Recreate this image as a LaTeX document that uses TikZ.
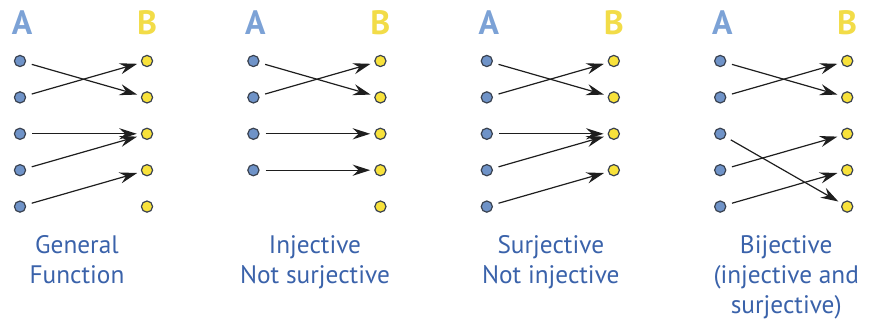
\documentclass[tikz,border=0pt]{standalone}
\usepackage{fontspec}
\setmainfont{PT Sans}
\usepackage{xcolor}
\usetikzlibrary{arrows.meta,positioning,calc}
\definecolor{setA}{HTML}{7CA2D6}
\definecolor{setB}{HTML}{F2DC48}
\definecolor{dotA}{HTML}{6F93C8}
\definecolor{dotB}{HTML}{F8E23B}
\definecolor{rim}{HTML}{3A4250}
\definecolor{ink}{HTML}{1E1E1E}
\definecolor{caption}{HTML}{3A62AA}

\tikzset{
  elemA/.style={circle, fill=dotA, draw=rim, line width=0.3mm, minimum size=2.8mm, inner sep=0pt},
  elemB/.style={elemA, fill=dotB},
  maps/.style={draw=ink, line width=0.3mm, -{Stealth[length=4.4mm,width=2.8mm,inset=1.5mm]}, shorten <=1.5mm, shorten >=1mm},
  setname/.style={font=\bfseries\fontsize{24}{26}\selectfont},
  kind/.style={font=\color{caption}\fontsize{18}{21.5}\selectfont, align=center, anchor=north, inner sep=0pt},
}

\begin{document}
\begin{tikzpicture}[x=1mm, y=1mm]
  \def\pairw{31.75}
  \def\gapx{58.35}
  \def\rowgap{9.1}
  \useasboundingbox (0,0) rectangle (217.75,81.75);
  \coordinate (p1) at (5,66.5);
  \coordinate (p2) at ({5+\gapx},66.5);
  \coordinate (p3) at ({5+2*\gapx},66.5);
  \coordinate (p4) at ({5+3*\gapx},66.5);

  % the two sets, rows 1-4 everywhere
  \foreach \p in {1,...,4} {
    \node[setname, color=setA] (p\p-A) at ($(p\p)+(0.5,9.5)$) {A};
    \node[setname, color=setB] (p\p-B) at ($(p\p)+(\pairw,9.5)$) {B};
    \foreach \r in {1,...,4} {
      \node[elemA] (p\p-a\r) at ($(p\p)+(0,{-(\r-1)*\rowgap})$) {};
      \node[elemB] (p\p-b\r) at ($(p\p)+(\pairw,{-(\r-1)*\rowgap})$) {};
    }
  }
  % fifth row, not in every panel
  \node[elemA] (p1-a5) at ($(p1)+(0,-4*\rowgap)$) {};
  \node[elemB] (p1-b5) at ($(p1)+(\pairw,-4*\rowgap)$) {};
  \node[elemB] (p2-b5) at ($(p2)+(\pairw,-4*\rowgap)$) {};
  \node[elemA] (p3-a5) at ($(p3)+(0,-4*\rowgap)$) {};
  \node[elemA] (p4-a5) at ($(p4)+(0,-4*\rowgap)$) {};
  \node[elemB] (p4-b5) at ($(p4)+(\pairw,-4*\rowgap)$) {};

  % general function
  \draw[maps] (p1-a1) -- (p1-b2);
  \draw[maps] (p1-a2) -- (p1-b1);
  \draw[maps] (p1-a3) -- (p1-b3);
  \draw[maps] (p1-a4) -- (p1-b3);
  \draw[maps] (p1-a5) -- (p1-b4);
  \node[kind] (p1-cap) at ($(p1)+(14.25,-43.5)$) {General\\Function};

  % injective
  \draw[maps] (p2-a1) -- (p2-b2);
  \draw[maps] (p2-a2) -- (p2-b1);
  \draw[maps] (p2-a3) -- (p2-b3);
  \draw[maps] (p2-a4) -- (p2-b4);
  \node[kind] (p2-cap) at ($(p2)+(15.4,-43.5)$) {Injective\\Not surjective};

  % surjective
  \draw[maps] (p3-a1) -- (p3-b2);
  \draw[maps] (p3-a2) -- (p3-b1);
  \draw[maps] (p3-a3) -- (p3-b3);
  \draw[maps] (p3-a4) -- (p3-b3);
  \draw[maps] (p3-a5) -- (p3-b4);
  \node[kind] (p3-cap) at ($(p3)+(16,-43.5)$) {Surjective\\Not injective};

  % bijective
  \draw[maps] (p4-a1) -- (p4-b2);
  \draw[maps] (p4-a2) -- (p4-b1);
  \draw[maps] (p4-a3) -- (p4-b5);
  \draw[maps] (p4-a4) -- (p4-b3);
  \draw[maps] (p4-a5) -- (p4-b4);
  \node[kind] (p4-cap) at ($(p4)+(16.5,-43.5)$) {Bijective\\(injective and\\surjective)};
\end{tikzpicture}
\end{document}
